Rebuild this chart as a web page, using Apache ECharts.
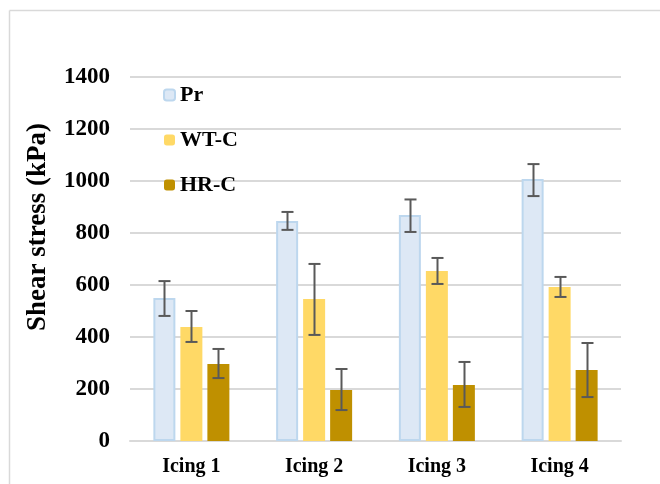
<!DOCTYPE html>
<html>
<head>
<meta charset="utf-8">
<script src="https://cdn.jsdelivr.net/npm/echarts@6/dist/echarts.min.js"></script>
<style>
html,body{margin:0;padding:0;background:#fff;}
#chart{width:660px;height:484px;}
</style>
</head>
<body>
<div id="chart"></div>
<script>
var categories = ['Icing 1', 'Icing 2', 'Icing 3', 'Icing 4'];
var seriesNames = ['Pr', 'WT-C', 'HR-C'];
var prValues = [550, 846, 869, 1008];
var wtcValues = [438, 546, 654, 592];
var hrcValues = [296, 196, 215, 273];
var prErrLow = [481, 812, 804, 942];
var prErrHigh = [615, 881, 929, 1065];
var wtcErrLow = [381, 408, 604, 554];
var wtcErrHigh = [500, 681, 704, 631];
var hrcErrLow = [242, 119, 131, 169];
var hrcErrHigh = [354, 277, 304, 377];
var yTicks = [0, 200, 400, 600, 800, 1000, 1200, 1400];
var yTitle = 'Shear stress (kPa)';

var FONT = '"Liberation Serif", "Times New Roman", serif';
var chart = echarts.init(document.getElementById('chart'));

var values = [prValues, wtcValues, hrcValues];
var lows = [prErrLow, wtcErrLow, hrcErrLow];
var highs = [prErrHigh, wtcErrHigh, hrcErrHigh];
var styles = [
  {color: '#dde8f5', borderColor: '#bdd7ee', borderWidth: 2},
  {color: '#ffd966', borderColor: '#ffd966', borderWidth: 0},
  {color: '#bf9000', borderColor: '#bf9000', borderWidth: 0}
];
var BAR_W = 22, BAR_GAP = 5;

var series = [];
seriesNames.forEach(function (name, si) {
  series.push({
    name: name,
    type: 'bar',
    data: values[si],
    barWidth: BAR_W,
    barGap: (BAR_GAP / BAR_W * 100) + '%',
    itemStyle: styles[si],
    emphasis: {disabled: true}
  });
});
seriesNames.forEach(function (name, si) {
  var data = categories.map(function (c, i) { return [i, lows[si][i], highs[si][i]]; });
  series.push({
    type: 'custom',
    name: name + ' err',
    silent: true,
    z: 10,
    data: data,
    renderItem: function (params, api) {
      var xi = api.value(0);
      var pLow = api.coord([xi, api.value(1)]);
      var pHigh = api.coord([xi, api.value(2)]);
      var offset = (si - 1) * (BAR_W + BAR_GAP);
      var x = Math.round(pLow[0] + offset) + 0.5;
      var cap = 6;
      var st = {stroke: '#595959', lineWidth: 2};
      return {
        type: 'group',
        children: [
          {type: 'line', shape: {x1: x, y1: pLow[1], x2: x, y2: pHigh[1]}, style: st},
          {type: 'line', shape: {x1: x - cap, y1: pLow[1], x2: x + cap, y2: pLow[1]}, style: st},
          {type: 'line', shape: {x1: x - cap, y1: pHigh[1], x2: x + cap, y2: pHigh[1]}, style: st}
        ]
      };
    }
  });
});

chart.setOption({
  animation: false,
  backgroundColor: '#ffffff',
  textStyle: {fontFamily: FONT},
  graphic: [
    {type: 'line', shape: {x1: 9.5, y1: 10.5, x2: 660, y2: 10.5}, style: {stroke: '#d9d9d9', lineWidth: 1.5}},
    {type: 'line', shape: {x1: 9.5, y1: 10.5, x2: 9.5, y2: 484}, style: {stroke: '#d9d9d9', lineWidth: 1.5}},
    {type: 'text', x: 38, y: 227, rotation: Math.PI / 2,
      style: {text: yTitle, fontFamily: FONT, fontWeight: 'bold', fontSize: 27, fill: '#000',
        align: 'center', verticalAlign: 'middle'}}
  ],
  legend: {
    data: seriesNames,
    orient: 'vertical',
    left: 158,
    top: 79,
    itemWidth: 11,
    itemHeight: 11,
    itemGap: 23,
    textStyle: {fontFamily: FONT, fontWeight: 'bold', fontSize: 22, color: '#000'}
  },
  grid: {left: 130, right: 39, top: 77, bottom: 43, containLabel: false},
  xAxis: {
    type: 'category',
    data: categories,
    axisLine: {lineStyle: {color: '#d9d9d9', width: 2}},
    axisTick: {show: false},
    axisLabel: {fontFamily: FONT, fontWeight: 'bold', fontSize: 20, color: '#000', margin: 16}
  },
  yAxis: {
    type: 'value',
    min: 0,
    max: 1400,
    interval: 200,
    axisLine: {show: false},
    axisTick: {show: false},
    splitLine: {lineStyle: {color: '#d9d9d9', width: 2}},
    axisLabel: {fontFamily: FONT, fontWeight: 'bold', fontSize: 23, color: '#000', margin: 20,
      formatter: function (v) { return yTicks.indexOf(v) >= 0 ? String(v) : ''; }}
  },
  series: series
});
</script>
</body>
</html>
